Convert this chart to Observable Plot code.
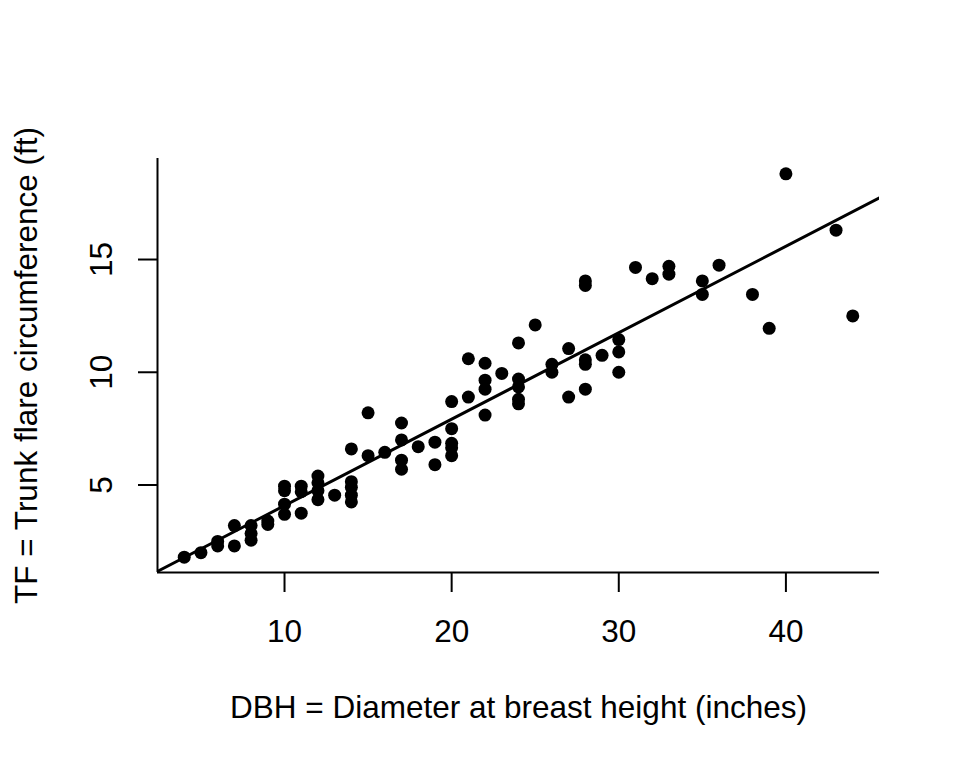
<!DOCTYPE html>
<html>
<head>
<meta charset="utf-8">
<script src="https://cdn.jsdelivr.net/npm/d3@7"></script>
<script src="https://cdn.jsdelivr.net/npm/@observablehq/plot@0.6"></script>
<style>
  html, body { margin: 0; padding: 0; background: #fff; }
</style>
</head>
<body>
<div id="chart"></div>
<script>
// DBH (inches) and TF (ft)
const dbh = [
  4, 5, 6, 6, 7, 7, 8, 8, 8, 9, 9,
  10, 10, 10, 10, 11, 11, 11, 12, 12, 12, 12, 13,
  14, 14, 14, 14, 14, 15, 15, 16, 17, 17, 17, 17, 18, 19, 19,
  20, 20, 20, 20, 20, 21, 21, 22, 22, 22, 22, 23,
  24, 24, 24, 24, 24, 25, 26, 26, 27, 27,
  28, 28, 28, 28, 28, 29, 30, 30, 30,
  31, 32, 33, 33, 35, 35, 36, 38, 39, 40, 43, 44
];
const tf = [
  1.8, 2.0, 2.5, 2.3, 3.2, 2.3, 3.2, 2.85, 2.55, 3.4, 3.25,
  4.95, 4.75, 4.15, 3.7, 4.95, 4.7, 3.75, 5.4, 5.1, 4.75, 4.35, 4.55,
  6.6, 5.15, 4.9, 4.55, 4.25, 8.2, 6.3, 6.45, 7.75, 7.0, 6.1, 5.7, 6.7, 6.9, 5.9,
  8.7, 7.5, 6.85, 6.65, 6.3, 10.6, 8.9, 10.4, 9.65, 9.25, 8.1, 9.95,
  11.3, 9.7, 9.35, 8.8, 8.6, 12.1, 10.35, 10.0, 11.05, 8.9,
  14.05, 13.85, 10.55, 10.35, 9.25, 10.75, 11.45, 10.9, 10.0,
  14.65, 14.15, 14.7, 14.35, 14.05, 13.45, 14.75, 13.45, 11.95, 18.8, 16.3, 12.5
];
const xTicks = [10, 20, 30, 40];
const yTicks = [5, 10, 15];
const xTitle = "DBH = Diameter at breast height (inches)";
const yTitle = "TF = Trunk flare circumference (ft)";

const data = dbh.map((d, i) => ({dbh: d, tf: tf[i]}));

// R-style axis ranges: data extent padded by 4%
function pad([a, b]) { const p = (b - a) * 0.04; return [a - p, b + p]; }
const xDomain = pad(d3.extent(dbh));
const yDomain = pad(d3.extent(tf));

// least-squares fit (abline(lm(tf ~ dbh)))
const mx = d3.mean(dbh), my = d3.mean(tf);
const slope = d3.sum(data, d => (d.dbh - mx) * (d.tf - my)) / d3.sum(data, d => (d.dbh - mx) ** 2);
const intercept = my - slope * mx;
const fit = xDomain.map(x => ({dbh: x, tf: intercept + slope * x}));

const FS = 31.5;
const chart = Plot.plot({
  width: 960,
  height: 768,
  marginLeft: 157,
  marginRight: 81,
  marginTop: 158,
  marginBottom: 196,
  style: {fontFamily: "'Liberation Sans', Arial, sans-serif", fontSize: FS + "px", color: "black", background: "white"},
  x: {domain: xDomain, label: null},
  y: {domain: yDomain, label: null},
  marks: [
    Plot.ruleX([xDomain[0]], {stroke: "black", strokeWidth: 2}),
    Plot.ruleY([yDomain[0]], {stroke: "black", strokeWidth: 2}),
    Plot.axisX({ticks: xTicks, tickSize: 20, tickPadding: 27, strokeWidth: 2, label: null, fontSize: FS}),
    Plot.axisY({ticks: yTicks, tickSize: 19, tickFormat: () => "", strokeWidth: 2, label: null}),
    Plot.text(yTicks, {y: d => d, text: d => String(d), frameAnchor: "left", textAnchor: "middle", lineAnchor: "middle", dx: -55.5, rotate: -90, fontSize: FS, fill: "black"}),
    Plot.dot(data, {x: "dbh", y: "tf", r: 6.5, fill: "black", stroke: null}),
    Plot.line(fit, {x: "dbh", y: "tf", stroke: "black", strokeWidth: 3, clip: true}),
    Plot.text([xTitle], {frameAnchor: "bottom", textAnchor: "middle", lineAnchor: "middle", dy: 135.7, fontSize: FS, fill: "black"}),
    Plot.text([yTitle], {frameAnchor: "left", textAnchor: "middle", lineAnchor: "middle", dx: -131, rotate: -90, fontSize: FS, fill: "black"})
  ]
});
document.getElementById("chart").appendChild(chart);
</script>
</body>
</html>
